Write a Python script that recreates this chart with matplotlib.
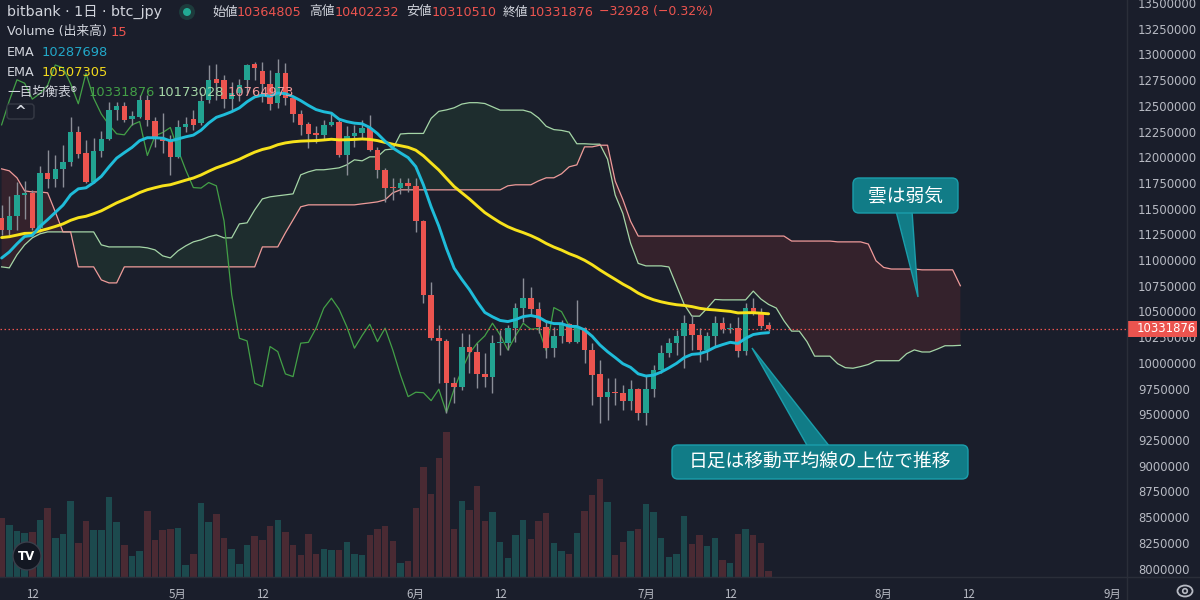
import numpy as np
import pandas as pd
import matplotlib
matplotlib.use("Agg")
import matplotlib.pyplot as plt
from matplotlib.patches import Rectangle, FancyBboxPatch, Polygon, Circle, Ellipse
from matplotlib.transforms import blended_transform_factory

# ---------------- data (prices in 万円 = 10,000 JPY) ----------------
start_date = "2024-04-08"
opens = [1140.8, 1129.4, 1143.0, 1163.4, 1165.7, 1131.0, 1184.5, 1179.0, 1188.4, 1195.8,
         1224.4, 1204.0, 1176.4, 1205.6, 1217.6, 1246.1, 1250.3, 1237.1, 1239.6, 1255.2,
         1235.4, 1218.6, 1216.0, 1200.0, 1229.3, 1237.0, 1233.5, 1255.8, 1276.3, 1275.3,
         1256.5, 1262.0, 1275.1, 1290.3, 1284.3, 1271.4, 1252.6, 1281.8, 1257.5, 1242.0,
         1232.2, 1224.0, 1221.8, 1231.5, 1234.7, 1202.3, 1220.8, 1224.0, 1228.3, 1207.2,
         1187.7, 1171.2, 1170.0, 1175.0, 1172.5, 1138.1, 1066.2, 1024.0, 1021.4, 980.3,
         977.0, 1015.9, 1011.0, 989.3, 986.7, 1019.2, 1019.7, 1033.8, 1053.2, 1062.9,
         1052.2, 1035.3, 1014.3, 1026.6, 1037.6, 1020.7, 1033.8, 1012.6, 989.0, 967.2,
         972.0, 971.1, 963.3, 974.4, 951.7, 974.4, 993.2, 1009.4, 1019.2, 1026.3,
         1037.9, 1027.2, 1012.6, 1026.3, 1038.6, 1032.8, 1033.8, 1012.0, 1053.8, 1049.9,
         1036.48]
highs = [1153.7, 1162.7, 1176.4, 1177.0, 1168.3, 1191.0, 1207.2, 1202.3, 1212.0, 1239.6,
         1230.0, 1217.0, 1218.6, 1225.7, 1254.2, 1254.2, 1254.2, 1244.5, 1260.7, 1260.7,
         1239.6, 1242.9, 1221.8, 1236.4, 1239.6, 1246.0, 1262.4, 1289.9, 1291.0, 1280.2,
         1273.6, 1276.0, 1291.0, 1293.0, 1293.0, 1285.0, 1295.7, 1291.5, 1259.0, 1246.0,
         1234.7, 1229.9, 1236.4, 1242.9, 1236.4, 1229.9, 1231.5, 1236.4, 1241.3, 1210.4,
         1189.4, 1179.7, 1179.7, 1179.7, 1179.7, 1139.0, 1079.1, 1037.0, 1023.0, 986.7,
         1028.8, 1028.2, 1019.2, 1009.4, 1027.2, 1032.1, 1037.0, 1058.1, 1082.4, 1074.2,
         1059.6, 1041.8, 1035.3, 1041.8, 1039.2, 1061.3, 1035.3, 1019.7, 1003.0, 985.1,
         985.1, 978.6, 983.5, 975.4, 988.3, 998.1, 1017.5, 1024.0, 1032.1, 1046.7,
         1046.7, 1033.8, 1030.4, 1045.7, 1044.4, 1038.6, 1045.0, 1058.1, 1062.9, 1053.2,
         1040.22]
lows = [1124.5, 1124.5, 1129.4, 1140.0, 1129.4, 1127.7, 1170.0, 1171.5, 1171.5, 1191.0,
        1199.0, 1174.8, 1174.8, 1200.7, 1217.0, 1236.4, 1234.7, 1231.5, 1238.0, 1229.9,
        1210.4, 1204.0, 1182.9, 1199.0, 1225.0, 1226.7, 1231.5, 1253.0, 1256.0, 1247.8,
        1246.0, 1255.0, 1262.0, 1275.0, 1254.0, 1246.0, 1248.0, 1251.0, 1234.7, 1221.8,
        1208.9, 1213.7, 1217.0, 1229.9, 1200.7, 1182.9, 1210.4, 1218.6, 1205.6, 1179.7,
        1156.9, 1158.6, 1164.0, 1166.6, 1127.7, 1058.0, 1022.0, 980.0, 951.0, 960.8,
        973.7, 990.3, 975.4, 977.0, 970.5, 1007.8, 1012.6, 1020.7, 1040.0, 1046.7,
        1028.9, 1004.6, 1006.1, 1019.7, 1019.1, 1019.2, 1000.3, 959.1, 941.3, 944.6,
        959.1, 954.3, 954.3, 944.6, 939.7, 967.2, 990.0, 1006.1, 1007.8, 994.8,
        1012.6, 1001.3, 1002.9, 1015.9, 1029.5, 1028.9, 1005.5, 1008.0, 1047.0, 1033.8,
        1031.05]
closes = [1129.4, 1143.0, 1163.4, 1165.7, 1131.0, 1184.5, 1179.0, 1188.4, 1195.8, 1224.4,
          1203.6, 1176.4, 1205.6, 1217.6, 1246.1, 1250.3, 1236.4, 1240.3, 1255.2, 1236.4,
          1218.6, 1216.0, 1200.0, 1229.3, 1232.2, 1231.5, 1254.9, 1275.3, 1272.0, 1256.5,
          1262.0, 1270.0, 1289.7, 1287.0, 1271.4, 1252.0, 1281.8, 1257.5, 1242.0, 1231.5,
          1222.8, 1221.8, 1231.5, 1234.7, 1201.7, 1220.8, 1224.0, 1228.9, 1207.2, 1187.7,
          1170.5, 1170.0, 1175.4, 1172.2, 1138.1, 1066.2, 1024.0, 1021.4, 980.3, 977.0,
          1015.9, 1011.0, 989.3, 986.7, 1019.2, 1020.0, 1033.8, 1053.2, 1062.9, 1052.2,
          1035.3, 1014.3, 1026.6, 1037.6, 1020.7, 1033.8, 1012.6, 988.3, 967.2, 971.5,
          971.0, 963.3, 974.4, 951.7, 974.4, 993.2, 1009.4, 1019.2, 1026.3, 1038.6,
          1027.2, 1012.6, 1026.3, 1038.6, 1032.8, 1033.5, 1012.0, 1053.8, 1049.9, 1036.0,
          1033.1876]
volumes = [148.3, 130.8, 115.0, 110.0, 111.6, 142.5, 172.5, 98.3, 107.5, 190.0,
           85.8, 140.8, 118.3, 118.3, 199.1, 138.3, 79.1, 53.3, 65.8, 165.0,
           91.6, 117.5, 120.0, 122.5, 29.2, 58.3, 185.8, 138.3, 156.6, 98.3,
           69.1, 32.5, 80.8, 103.3, 93.3, 127.5, 142.5, 112.5, 79.1, 55.8,
           107.5, 57.5, 70.0, 68.3, 67.5, 87.5, 56.6, 55.8, 105.8, 120.0,
           126.6, 90.8, 35.0, 40.0, 172.5, 274.1, 208.3, 297.5, 362.5, 120.0,
           189.1, 167.5, 226.6, 140.8, 162.5, 87.5, 47.5, 104.1, 142.5, 95.8,
           140.0, 160.8, 84.1, 65.8, 57.5, 109.1, 165.0, 205.0, 245.8, 187.5,
           55.8, 88.3, 115.0, 120.8, 183.3, 163.3, 98.3, 50.8, 56.6, 153.3,
           83.3, 105.8, 77.5, 96.6, 43.3, 35.8, 107.5, 120.8, 104.1, 85.0,
           15.0]
# leading spans as drawn at the left of the chart (their inputs lie before the first bar)
span_a_hist = [1093.4, 1092.4, 1105.1, 1114.8, 1121.6, 1125.5, 1127.4, 1127.4, 1127.4, 1127.4,
               1127.4, 1127.4, 1127.4, 1114.8, 1112.8, 1112.8, 1112.8, 1112.8, 1112.8, 1111.9,
               1109.9, 1104.1, 1102.1, 1109.0, 1113.8, 1117.7, 1119.7, 1122.6, 1124.5, 1121.6,
               1121.6, 1135.2, 1136.2, 1148.8, 1159.5, 1161.5, 1162.5, 1163.4, 1164.4, 1182.9,
               1185.8, 1187.8, 1187.8, 1188.7, 1189.7, 1192.6, 1197.5, 1196.5, 1200.4, 1200.4]
span_b_hist = [1188.7, 1186.8, 1180.0, 1167.3, 1166.3, 1166.3, 1165.4, 1146.9, 1127.4, 1127.4,
               1093.4, 1093.4, 1093.4, 1080.7, 1077.8, 1077.8, 1093.4, 1093.4, 1093.4, 1093.4,
               1093.4, 1093.4, 1093.4, 1093.4, 1093.4, 1093.4, 1093.4, 1093.4, 1093.4, 1093.4,
               1093.4, 1093.4, 1093.4, 1093.4, 1112.8, 1112.8, 1112.8, 1126.5, 1139.1, 1151.8,
               1153.7, 1153.7, 1153.7, 1153.7, 1153.7, 1153.7, 1153.7, 1154.7, 1155.6, 1156.6,
               1158.6, 1165.4, 1168.3, 1168.3, 1168.3, 1168.3, 1168.3, 1168.3, 1168.3, 1168.3,
               1168.3, 1168.3, 1168.3, 1168.3, 1168.3, 1168.3, 1172.2, 1173.2, 1173.2, 1173.2,
               1177.0, 1180.0, 1180.0, 1183.9, 1190.7, 1192.6]
ema_fast_start = 1102.0
ema_slow_start = 1121.9
EMA_FAST, EMA_SLOW = 13, 50
TENKAN, KIJUN, SENKOU_B, DISP = 9, 26, 52, 25
price_ticks = list(range(8000000, 13500001, 250000))

# ---------------- derived series ----------------
UNIT = 1e4
o = np.array(opens) * UNIT
h = np.array(highs) * UNIT
l = np.array(lows) * UNIT
c = np.array(closes) * UNIT
v = np.array(volumes)
n = len(c)
x = np.arange(n)


def ema(vals, period, seed):
    a = 2.0 / (period + 1)
    out = [seed]
    for val in vals[1:]:
        out.append(out[-1] + a * (val - out[-1]))
    return np.array(out)


ema_f = ema(c, EMA_FAST, ema_fast_start * UNIT)
ema_s = ema(c, EMA_SLOW, ema_slow_start * UNIT)


def mid(period, t):
    lo = max(0, t - period + 1)
    return (h[lo:t + 1].max() + l[lo:t + 1].min()) / 2


nc = n + DISP
span_a = np.full(nc, np.nan)
span_b = np.full(nc, np.nan)
span_a[:len(span_a_hist)] = np.array(span_a_hist) * UNIT
span_b[:len(span_b_hist)] = np.array(span_b_hist) * UNIT
for t in range(KIJUN - 1, n):
    j = t + DISP
    if j >= len(span_a_hist):
        span_a[j] = (mid(TENKAN, t) + mid(KIJUN, t)) / 2
for t in range(SENKOU_B - 1, n):
    j = t + DISP
    if j >= len(span_b_hist):
        span_b[j] = mid(SENKOU_B, t)
xc = np.arange(nc)
chikou_x = x[DISP:] - DISP
chikou_y = c[DISP:]

# ---------------- styling ----------------
BG = "#1a1e2b"
UP = "#22a391"
DN = "#ec544f"
WICK = "#8b8e97"
TXT = "#b7bac3"
plt.rcParams["font.family"] = ["DejaVu Sans", "Noto Sans CJK JP"]
JP = ["Noto Sans CJK JP", "DejaVu Sans"]

fig = plt.figure(figsize=(12, 6), dpi=100, facecolor=BG)
W, H = 1200, 600
PR, PB = 1127, 577
ax_pos = [0, (H - PB) / H, PR / W, PB / H]
axv = fig.add_axes(ax_pos)
ax = fig.add_axes(ax_pos, sharex=axv)
axv.set_facecolor(BG)
ax.patch.set_visible(False)
axv.set_zorder(1)
ax.set_zorder(2)

x0 = -0.21
x1 = (PR - 1.6) / 7.67
ax.set_xlim(x0, x1)
ymin, ymax = 7918200, 13529000
ax.set_ylim(ymin, ymax)
axv.set_ylim(0, 1442)

# volume
vcol = ["#1c4a4e" if cc >= oo else "#4a2a33" for oo, cc in zip(o, c)]
axv.bar(x, v, width=0.84, color=vcol, linewidth=0)
axv.axis("off")

# ichimoku cloud
ax.fill_between(xc, span_a, span_b, where=span_a >= span_b, interpolate=True,
                color="#43a047", alpha=0.12, linewidth=0, zorder=1)
ax.fill_between(xc, span_a, span_b, where=span_a < span_b, interpolate=True,
                color="#f44336", alpha=0.12, linewidth=0, zorder=1)
ax.plot(xc, span_a, color="#a5d6a7", lw=0.9, zorder=2)
ax.plot(xc, span_b, color="#ef9a9a", lw=0.9, zorder=2)
ax.plot(chikou_x, chikou_y, color="#43a047", lw=0.9, zorder=2)

# candles
col = np.where(c >= o, UP, DN)
ax.vlines(x, l, h, color=WICK, lw=1.0, zorder=3)
body_lo = np.minimum(o, c)
body_h = np.maximum(np.abs(c - o), 12000)
ax.bar(x, body_h, bottom=body_lo, width=0.72, color=col, linewidth=0, zorder=4)

# EMAs
ax.plot(x, ema_s, color="#f7e21b", lw=2.1, zorder=5, solid_capstyle="round")
ax.plot(x, ema_f, color="#1fbcd9", lw=2.1, zorder=6, solid_capstyle="round")

# last price line
ax.axhline(c[-1], color=DN, lw=0.9, ls=(0, (1.2, 2)), zorder=3)

# axes decorations
for sp in ax.spines.values():
    sp.set_visible(False)
ax.yaxis.tick_right()
ax.set_yticks(price_ticks)
ax.set_yticklabels([str(t) for t in price_ticks])
ax.tick_params(axis="y", length=0, pad=8, labelsize=8.4, labelcolor=TXT)

dates = pd.date_range(start_date, periods=int(np.ceil(x1)) + 1, freq="D")
tks, tls = [], []
for i, d in enumerate(dates):
    if i > x1:
        break
    if d.day == 1:
        tks.append(i)
        tls.append(f"{d.month}月")
    elif d.day == 12:
        tks.append(i)
        tls.append("12")
ax.set_xticks(tks)
ax.set_xticklabels(tls, family=JP)
ax.tick_params(axis="x", length=0, pad=8, labelsize=8.3, labelcolor=TXT)
for lab in ax.get_xticklabels():
    if lab.get_text() == "9月":
        lab.set_horizontalalignment("right")

# last price tag (drawn over the axis labels, as in the platform)
tr = blended_transform_factory(ax.transAxes, ax.transData)
ov_tag = Rectangle((1.0, c[-1] - 80000), 70 / PR, 160000, transform=tr,
                   facecolor=DN, edgecolor="none", clip_on=False, zorder=10)
ax.add_patch(ov_tag)
ax.text(1.0 + 10 / PR, c[-1], f"{int(round(c[-1]))}", transform=tr, ha="left",
        va="center", color="white", fontsize=8.4, clip_on=False, zorder=11)

# ---------------- overlay (legend, annotations) ----------------
ov = fig.add_axes([0, 0, 1, 1])
ov.set_xlim(0, W)
ov.set_ylim(H, 0)
ov.axis("off")
ov.set_zorder(20)
ov.plot([PR, PR], [0, H], color="#2a2e39", lw=1)
ov.plot([0, W], [PB, PB], color="#2a2e39", lw=1)

LG = "#d1d4dc"
ov.text(7, 12, "bitbank · 1日 · btc_jpy", color=LG, fontsize=10.3, va="center",
        family=["DejaVu Sans", "Noto Sans CJK JP"])
ov.add_patch(Circle((187, 12), 8, facecolor="#1d3b3c", edgecolor="none"))
ov.add_patch(Circle((187, 12), 4, facecolor="#22ab94", edgecolor="none"))
ohlc_items = [(212, "始値", 237, "10364805"), (309, "高値", 335, "10402232"),
              (406, "安値", 432, "10310510"), (503, "終値", 529, "10331876")]
for lx, lab, vx, val in ohlc_items:
    ov.text(lx, 12, lab, color=LG, fontsize=9.2, va="center", family=JP)
    ov.text(vx, 12, val, color=DN, fontsize=9.2, va="center")
ov.text(599, 12, "−32928 (−0.32%)", color=DN, fontsize=9.0, va="center")

ov.text(7, 32, "Volume (出来高)", color=LG, fontsize=9.2, va="center")
ov.text(111, 32, "15", color=DN, fontsize=9.4, va="center")
ov.text(7, 52, "EMA", color=LG, fontsize=9.2, va="center")
ov.text(42, 52, "10287698", color="#22a8c9", fontsize=9.4, va="center")
ov.text(7, 72, "EMA", color=LG, fontsize=9.2, va="center")
ov.text(42, 72, "10507305", color="#f2d91c", fontsize=9.4, va="center")
ov.text(7, 92, "一目均衡表®", color=LG, fontsize=9.2, va="center", family=JP)
ov.text(89, 92, "10331876", color="#43a047", fontsize=9.4, va="center")
ov.text(158, 92, "10173028", color="#a5d6a7", fontsize=9.4, va="center")
ov.text(228, 92, "10764973", color="#ef9a9a", fontsize=9.4, va="center")
ov.add_patch(FancyBboxPatch((7, 104), 27, 15, boxstyle="round,pad=0,rounding_size=3",
                            facecolor=BG, edgecolor="#363a45", lw=1))
ov.text(20.5, 112, "^", color=LG, fontsize=10, ha="center", va="center", fontweight="bold")

# TradingView logo
ov.add_patch(Circle((27, 556), 14, facecolor="#131722", edgecolor="#3a3e4a", lw=1))
ov.text(27, 556, "TV", color="white", fontsize=8.5, fontweight="bold", ha="center", va="center")
# settings icon
ov.add_patch(Ellipse((1185, 591), 15, 11, facecolor="none", edgecolor=TXT, lw=1.3))
ov.add_patch(Circle((1185, 591), 2.3, facecolor="none", edgecolor=TXT, lw=1.2))

# callouts
BOXC = "#117c87"
BOXE = "#1b9eab"
ov.add_patch(Polygon([(896, 211), (912, 211), (918, 297)], closed=True, facecolor=BOXC, edgecolor=BOXE, lw=1))
ov.add_patch(FancyBboxPatch((853, 178), 105, 35, boxstyle="round,pad=0,rounding_size=6",
                            facecolor=BOXC, edgecolor=BOXE, lw=1))
ov.text(905.5, 196, "雲は弱気", color="white", fontsize=13.5, ha="center", va="center", family=JP)

ov.add_patch(Polygon([(808, 447), (830, 447), (752, 348)], closed=True, facecolor=BOXC, edgecolor=BOXE, lw=1))
ov.add_patch(FancyBboxPatch((672, 445), 296, 34, boxstyle="round,pad=0,rounding_size=6",
                            facecolor=BOXC, edgecolor=BOXE, lw=1))
ov.text(820, 462, "日足は移動平均線の上位で推移", color="white", fontsize=13.5, ha="center", va="center", family=JP)

fig.savefig("out.png", dpi=100, facecolor=BG)
